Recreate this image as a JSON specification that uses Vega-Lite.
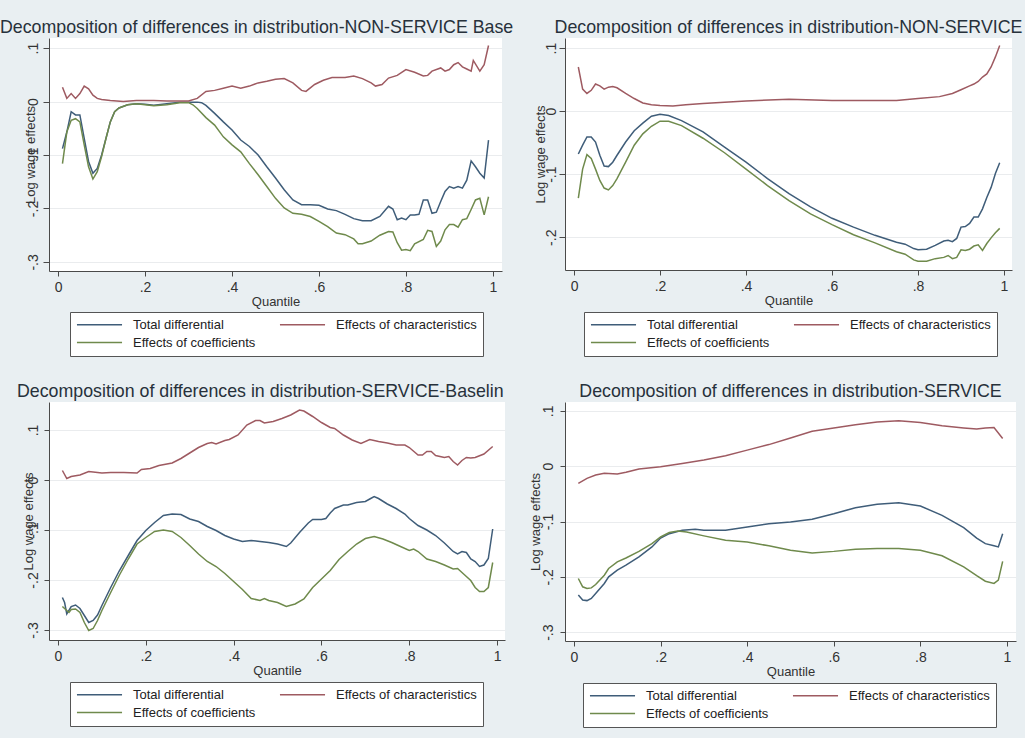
{
  "$schema": "https://vega.github.io/schema/vega-lite/v6.json",
  "background": "#e9eff2",
  "padding": {"left": 0, "top": 19, "right": 20, "bottom": 30},
  "datasets": {
    "p1": [
      {"q":0.01,"s":"T","v":-0.088},{"q":0.02,"s":"T","v":-0.057},{"q":0.03,"s":"T","v":-0.019},{"q":0.04,"s":"T","v":-0.025},{"q":0.05,"s":"T","v":-0.025},{"q":0.06,"s":"T","v":-0.069},{"q":0.07,"s":"T","v":-0.112},{"q":0.08,"s":"T","v":-0.134},{"q":0.09,"s":"T","v":-0.125},{"q":0.10,"s":"T","v":-0.100},{"q":0.11,"s":"T","v":-0.069},{"q":0.12,"s":"T","v":-0.038},{"q":0.13,"s":"T","v":-0.019},{"q":0.14,"s":"T","v":-0.012},{"q":0.16,"s":"T","v":-0.006},{"q":0.18,"s":"T","v":-0.004},{"q":0.20,"s":"T","v":-0.005},{"q":0.22,"s":"T","v":-0.007},{"q":0.25,"s":"T","v":-0.004},{"q":0.28,"s":"T","v":-0.001},{"q":0.30,"s":"T","v":-0.001},{"q":0.32,"s":"T","v":-0.001},{"q":0.33,"s":"T","v":-0.002},{"q":0.34,"s":"T","v":-0.007},{"q":0.36,"s":"T","v":-0.022},{"q":0.38,"s":"T","v":-0.038},{"q":0.40,"s":"T","v":-0.053},{"q":0.42,"s":"T","v":-0.072},{"q":0.44,"s":"T","v":-0.084},{"q":0.46,"s":"T","v":-0.100},{"q":0.48,"s":"T","v":-0.122},{"q":0.50,"s":"T","v":-0.143},{"q":0.52,"s":"T","v":-0.165},{"q":0.54,"s":"T","v":-0.184},{"q":0.56,"s":"T","v":-0.193},{"q":0.58,"s":"T","v":-0.193},{"q":0.60,"s":"T","v":-0.194},{"q":0.62,"s":"T","v":-0.201},{"q":0.64,"s":"T","v":-0.204},{"q":0.66,"s":"T","v":-0.211},{"q":0.68,"s":"T","v":-0.219},{"q":0.70,"s":"T","v":-0.223},{"q":0.72,"s":"T","v":-0.223},{"q":0.74,"s":"T","v":-0.215},{"q":0.76,"s":"T","v":-0.196},{"q":0.77,"s":"T","v":-0.201},{"q":0.78,"s":"T","v":-0.221},{"q":0.79,"s":"T","v":-0.218},{"q":0.80,"s":"T","v":-0.221},{"q":0.81,"s":"T","v":-0.212},{"q":0.82,"s":"T","v":-0.212},{"q":0.83,"s":"T","v":-0.211},{"q":0.84,"s":"T","v":-0.184},{"q":0.85,"s":"T","v":-0.184},{"q":0.86,"s":"T","v":-0.209},{"q":0.87,"s":"T","v":-0.207},{"q":0.88,"s":"T","v":-0.187},{"q":0.89,"s":"T","v":-0.168},{"q":0.90,"s":"T","v":-0.159},{"q":0.91,"s":"T","v":-0.162},{"q":0.92,"s":"T","v":-0.159},{"q":0.93,"s":"T","v":-0.162},{"q":0.94,"s":"T","v":-0.147},{"q":0.95,"s":"T","v":-0.111},{"q":0.96,"s":"T","v":-0.122},{"q":0.97,"s":"T","v":-0.134},{"q":0.98,"s":"T","v":-0.143},{"q":0.99,"s":"T","v":-0.072},
      {"q":0.01,"s":"C","v":0.027},{"q":0.02,"s":"C","v":0.006},{"q":0.03,"s":"C","v":0.015},{"q":0.04,"s":"C","v":0.006},{"q":0.05,"s":"C","v":0.015},{"q":0.06,"s":"C","v":0.029},{"q":0.07,"s":"C","v":0.024},{"q":0.08,"s":"C","v":0.012},{"q":0.09,"s":"C","v":0.006},{"q":0.10,"s":"C","v":0.004},{"q":0.12,"s":"C","v":0.002},{"q":0.15,"s":"C","v":0.0},{"q":0.18,"s":"C","v":0.002},{"q":0.22,"s":"C","v":0.002},{"q":0.25,"s":"C","v":0.001},{"q":0.30,"s":"C","v":0.001},{"q":0.32,"s":"C","v":0.006},{"q":0.34,"s":"C","v":0.019},{"q":0.36,"s":"C","v":0.021},{"q":0.38,"s":"C","v":0.025},{"q":0.40,"s":"C","v":0.029},{"q":0.42,"s":"C","v":0.025},{"q":0.44,"s":"C","v":0.029},{"q":0.46,"s":"C","v":0.035},{"q":0.48,"s":"C","v":0.038},{"q":0.50,"s":"C","v":0.042},{"q":0.52,"s":"C","v":0.043},{"q":0.54,"s":"C","v":0.035},{"q":0.56,"s":"C","v":0.021},{"q":0.57,"s":"C","v":0.019},{"q":0.59,"s":"C","v":0.032},{"q":0.61,"s":"C","v":0.040},{"q":0.63,"s":"C","v":0.045},{"q":0.66,"s":"C","v":0.045},{"q":0.68,"s":"C","v":0.048},{"q":0.70,"s":"C","v":0.043},{"q":0.72,"s":"C","v":0.035},{"q":0.73,"s":"C","v":0.029},{"q":0.745,"s":"C","v":0.032},{"q":0.76,"s":"C","v":0.044},{"q":0.78,"s":"C","v":0.049},{"q":0.80,"s":"C","v":0.060},{"q":0.82,"s":"C","v":0.055},{"q":0.84,"s":"C","v":0.048},{"q":0.85,"s":"C","v":0.049},{"q":0.86,"s":"C","v":0.057},{"q":0.88,"s":"C","v":0.063},{"q":0.89,"s":"C","v":0.057},{"q":0.90,"s":"C","v":0.060},{"q":0.91,"s":"C","v":0.069},{"q":0.92,"s":"C","v":0.073},{"q":0.93,"s":"C","v":0.065},{"q":0.94,"s":"C","v":0.061},{"q":0.95,"s":"C","v":0.057},{"q":0.955,"s":"C","v":0.077},{"q":0.97,"s":"C","v":0.057},{"q":0.98,"s":"C","v":0.069},{"q":0.99,"s":"C","v":0.105},
      {"q":0.01,"s":"K","v":-0.116},{"q":0.02,"s":"K","v":-0.057},{"q":0.03,"s":"K","v":-0.035},{"q":0.04,"s":"K","v":-0.032},{"q":0.05,"s":"K","v":-0.038},{"q":0.06,"s":"K","v":-0.081},{"q":0.07,"s":"K","v":-0.122},{"q":0.08,"s":"K","v":-0.145},{"q":0.09,"s":"K","v":-0.131},{"q":0.10,"s":"K","v":-0.103},{"q":0.11,"s":"K","v":-0.069},{"q":0.12,"s":"K","v":-0.038},{"q":0.13,"s":"K","v":-0.019},{"q":0.14,"s":"K","v":-0.012},{"q":0.16,"s":"K","v":-0.006},{"q":0.18,"s":"K","v":-0.004},{"q":0.20,"s":"K","v":-0.006},{"q":0.22,"s":"K","v":-0.008},{"q":0.25,"s":"K","v":-0.006},{"q":0.28,"s":"K","v":-0.002},{"q":0.30,"s":"K","v":-0.002},{"q":0.31,"s":"K","v":-0.006},{"q":0.32,"s":"K","v":-0.013},{"q":0.34,"s":"K","v":-0.030},{"q":0.36,"s":"K","v":-0.044},{"q":0.38,"s":"K","v":-0.066},{"q":0.40,"s":"K","v":-0.081},{"q":0.42,"s":"K","v":-0.094},{"q":0.44,"s":"K","v":-0.116},{"q":0.46,"s":"K","v":-0.137},{"q":0.48,"s":"K","v":-0.159},{"q":0.50,"s":"K","v":-0.181},{"q":0.52,"s":"K","v":-0.199},{"q":0.54,"s":"K","v":-0.209},{"q":0.56,"s":"K","v":-0.211},{"q":0.58,"s":"K","v":-0.215},{"q":0.60,"s":"K","v":-0.224},{"q":0.62,"s":"K","v":-0.234},{"q":0.64,"s":"K","v":-0.246},{"q":0.66,"s":"K","v":-0.249},{"q":0.68,"s":"K","v":-0.257},{"q":0.69,"s":"K","v":-0.266},{"q":0.70,"s":"K","v":-0.266},{"q":0.72,"s":"K","v":-0.261},{"q":0.74,"s":"K","v":-0.250},{"q":0.76,"s":"K","v":-0.243},{"q":0.77,"s":"K","v":-0.244},{"q":0.78,"s":"K","v":-0.264},{"q":0.79,"s":"K","v":-0.278},{"q":0.80,"s":"K","v":-0.277},{"q":0.81,"s":"K","v":-0.279},{"q":0.82,"s":"K","v":-0.266},{"q":0.84,"s":"K","v":-0.258},{"q":0.85,"s":"K","v":-0.241},{"q":0.86,"s":"K","v":-0.243},{"q":0.87,"s":"K","v":-0.271},{"q":0.88,"s":"K","v":-0.261},{"q":0.89,"s":"K","v":-0.240},{"q":0.90,"s":"K","v":-0.230},{"q":0.91,"s":"K","v":-0.230},{"q":0.92,"s":"K","v":-0.235},{"q":0.93,"s":"K","v":-0.221},{"q":0.94,"s":"K","v":-0.219},{"q":0.95,"s":"K","v":-0.202},{"q":0.96,"s":"K","v":-0.184},{"q":0.97,"s":"K","v":-0.181},{"q":0.98,"s":"K","v":-0.212},{"q":0.99,"s":"K","v":-0.178}
    ],
    "p2": [
      {"q":0.01,"s":"T","v":-0.068},{"q":0.02,"s":"T","v":-0.054},{"q":0.03,"s":"T","v":-0.041},{"q":0.04,"s":"T","v":-0.041},{"q":0.05,"s":"T","v":-0.049},{"q":0.06,"s":"T","v":-0.070},{"q":0.07,"s":"T","v":-0.087},{"q":0.08,"s":"T","v":-0.088},{"q":0.09,"s":"T","v":-0.081},{"q":0.10,"s":"T","v":-0.070},{"q":0.12,"s":"T","v":-0.049},{"q":0.14,"s":"T","v":-0.031},{"q":0.16,"s":"T","v":-0.019},{"q":0.18,"s":"T","v":-0.008},{"q":0.20,"s":"T","v":-0.005},{"q":0.22,"s":"T","v":-0.007},{"q":0.25,"s":"T","v":-0.015},{"q":0.30,"s":"T","v":-0.033},{"q":0.35,"s":"T","v":-0.057},{"q":0.40,"s":"T","v":-0.081},{"q":0.45,"s":"T","v":-0.107},{"q":0.50,"s":"T","v":-0.131},{"q":0.55,"s":"T","v":-0.152},{"q":0.60,"s":"T","v":-0.170},{"q":0.65,"s":"T","v":-0.184},{"q":0.70,"s":"T","v":-0.197},{"q":0.75,"s":"T","v":-0.208},{"q":0.77,"s":"T","v":-0.211},{"q":0.79,"s":"T","v":-0.218},{"q":0.80,"s":"T","v":-0.220},{"q":0.82,"s":"T","v":-0.219},{"q":0.84,"s":"T","v":-0.213},{"q":0.86,"s":"T","v":-0.206},{"q":0.87,"s":"T","v":-0.205},{"q":0.88,"s":"T","v":-0.207},{"q":0.89,"s":"T","v":-0.202},{"q":0.90,"s":"T","v":-0.184},{"q":0.91,"s":"T","v":-0.183},{"q":0.92,"s":"T","v":-0.178},{"q":0.93,"s":"T","v":-0.168},{"q":0.94,"s":"T","v":-0.168},{"q":0.95,"s":"T","v":-0.155},{"q":0.96,"s":"T","v":-0.137},{"q":0.97,"s":"T","v":-0.121},{"q":0.98,"s":"T","v":-0.099},{"q":0.99,"s":"T","v":-0.082},
      {"q":0.01,"s":"C","v":0.070},{"q":0.02,"s":"C","v":0.035},{"q":0.03,"s":"C","v":0.028},{"q":0.04,"s":"C","v":0.033},{"q":0.05,"s":"C","v":0.043},{"q":0.06,"s":"C","v":0.040},{"q":0.07,"s":"C","v":0.035},{"q":0.08,"s":"C","v":0.038},{"q":0.09,"s":"C","v":0.039},{"q":0.10,"s":"C","v":0.037},{"q":0.12,"s":"C","v":0.028},{"q":0.14,"s":"C","v":0.020},{"q":0.16,"s":"C","v":0.013},{"q":0.18,"s":"C","v":0.010},{"q":0.20,"s":"C","v":0.009},{"q":0.23,"s":"C","v":0.008},{"q":0.26,"s":"C","v":0.010},{"q":0.30,"s":"C","v":0.012},{"q":0.40,"s":"C","v":0.016},{"q":0.50,"s":"C","v":0.019},{"q":0.60,"s":"C","v":0.017},{"q":0.70,"s":"C","v":0.017},{"q":0.75,"s":"C","v":0.017},{"q":0.80,"s":"C","v":0.020},{"q":0.85,"s":"C","v":0.023},{"q":0.88,"s":"C","v":0.028},{"q":0.90,"s":"C","v":0.034},{"q":0.92,"s":"C","v":0.040},{"q":0.93,"s":"C","v":0.043},{"q":0.94,"s":"C","v":0.047},{"q":0.95,"s":"C","v":0.054},{"q":0.96,"s":"C","v":0.059},{"q":0.97,"s":"C","v":0.070},{"q":0.98,"s":"C","v":0.086},{"q":0.99,"s":"C","v":0.104},
      {"q":0.01,"s":"K","v":-0.138},{"q":0.02,"s":"K","v":-0.092},{"q":0.03,"s":"K","v":-0.069},{"q":0.04,"s":"K","v":-0.075},{"q":0.05,"s":"K","v":-0.092},{"q":0.06,"s":"K","v":-0.110},{"q":0.07,"s":"K","v":-0.122},{"q":0.08,"s":"K","v":-0.125},{"q":0.09,"s":"K","v":-0.118},{"q":0.10,"s":"K","v":-0.107},{"q":0.12,"s":"K","v":-0.081},{"q":0.14,"s":"K","v":-0.054},{"q":0.16,"s":"K","v":-0.036},{"q":0.18,"s":"K","v":-0.024},{"q":0.20,"s":"K","v":-0.016},{"q":0.22,"s":"K","v":-0.016},{"q":0.25,"s":"K","v":-0.023},{"q":0.30,"s":"K","v":-0.043},{"q":0.35,"s":"K","v":-0.066},{"q":0.40,"s":"K","v":-0.092},{"q":0.45,"s":"K","v":-0.118},{"q":0.50,"s":"K","v":-0.142},{"q":0.55,"s":"K","v":-0.163},{"q":0.60,"s":"K","v":-0.180},{"q":0.65,"s":"K","v":-0.196},{"q":0.70,"s":"K","v":-0.209},{"q":0.75,"s":"K","v":-0.223},{"q":0.77,"s":"K","v":-0.227},{"q":0.79,"s":"K","v":-0.236},{"q":0.80,"s":"K","v":-0.238},{"q":0.82,"s":"K","v":-0.238},{"q":0.84,"s":"K","v":-0.234},{"q":0.86,"s":"K","v":-0.232},{"q":0.87,"s":"K","v":-0.229},{"q":0.88,"s":"K","v":-0.234},{"q":0.89,"s":"K","v":-0.232},{"q":0.90,"s":"K","v":-0.220},{"q":0.91,"s":"K","v":-0.221},{"q":0.92,"s":"K","v":-0.219},{"q":0.93,"s":"K","v":-0.214},{"q":0.94,"s":"K","v":-0.212},{"q":0.95,"s":"K","v":-0.221},{"q":0.96,"s":"K","v":-0.210},{"q":0.97,"s":"K","v":-0.201},{"q":0.98,"s":"K","v":-0.193},{"q":0.99,"s":"K","v":-0.186}
    ],
    "p3": [
      {"q":0.01,"s":"T","v":-0.235},{"q":0.015,"s":"T","v":-0.245},{"q":0.02,"s":"T","v":-0.268},{"q":0.03,"s":"T","v":-0.253},{"q":0.04,"s":"T","v":-0.250},{"q":0.05,"s":"T","v":-0.257},{"q":0.06,"s":"T","v":-0.271},{"q":0.07,"s":"T","v":-0.285},{"q":0.08,"s":"T","v":-0.281},{"q":0.09,"s":"T","v":-0.270},{"q":0.10,"s":"T","v":-0.251},{"q":0.12,"s":"T","v":-0.215},{"q":0.14,"s":"T","v":-0.181},{"q":0.16,"s":"T","v":-0.151},{"q":0.18,"s":"T","v":-0.121},{"q":0.20,"s":"T","v":-0.101},{"q":0.22,"s":"T","v":-0.085},{"q":0.24,"s":"T","v":-0.071},{"q":0.26,"s":"T","v":-0.068},{"q":0.28,"s":"T","v":-0.069},{"q":0.30,"s":"T","v":-0.078},{"q":0.32,"s":"T","v":-0.083},{"q":0.34,"s":"T","v":-0.093},{"q":0.36,"s":"T","v":-0.101},{"q":0.38,"s":"T","v":-0.111},{"q":0.40,"s":"T","v":-0.118},{"q":0.42,"s":"T","v":-0.123},{"q":0.44,"s":"T","v":-0.121},{"q":0.46,"s":"T","v":-0.123},{"q":0.48,"s":"T","v":-0.125},{"q":0.50,"s":"T","v":-0.128},{"q":0.52,"s":"T","v":-0.133},{"q":0.53,"s":"T","v":-0.126},{"q":0.55,"s":"T","v":-0.105},{"q":0.57,"s":"T","v":-0.086},{"q":0.58,"s":"T","v":-0.079},{"q":0.60,"s":"T","v":-0.079},{"q":0.61,"s":"T","v":-0.077},{"q":0.62,"s":"T","v":-0.066},{"q":0.63,"s":"T","v":-0.057},{"q":0.65,"s":"T","v":-0.050},{"q":0.66,"s":"T","v":-0.050},{"q":0.68,"s":"T","v":-0.045},{"q":0.70,"s":"T","v":-0.043},{"q":0.71,"s":"T","v":-0.038},{"q":0.72,"s":"T","v":-0.033},{"q":0.73,"s":"T","v":-0.037},{"q":0.75,"s":"T","v":-0.048},{"q":0.77,"s":"T","v":-0.057},{"q":0.79,"s":"T","v":-0.068},{"q":0.80,"s":"T","v":-0.077},{"q":0.82,"s":"T","v":-0.091},{"q":0.84,"s":"T","v":-0.100},{"q":0.86,"s":"T","v":-0.111},{"q":0.88,"s":"T","v":-0.126},{"q":0.90,"s":"T","v":-0.143},{"q":0.91,"s":"T","v":-0.148},{"q":0.92,"s":"T","v":-0.143},{"q":0.93,"s":"T","v":-0.145},{"q":0.94,"s":"T","v":-0.158},{"q":0.95,"s":"T","v":-0.163},{"q":0.96,"s":"T","v":-0.173},{"q":0.97,"s":"T","v":-0.170},{"q":0.98,"s":"T","v":-0.157},{"q":0.99,"s":"T","v":-0.098},
      {"q":0.01,"s":"C","v":0.019},{"q":0.02,"s":"C","v":0.003},{"q":0.03,"s":"C","v":0.007},{"q":0.05,"s":"C","v":0.010},{"q":0.07,"s":"C","v":0.017},{"q":0.09,"s":"C","v":0.015},{"q":0.10,"s":"C","v":0.014},{"q":0.12,"s":"C","v":0.015},{"q":0.15,"s":"C","v":0.015},{"q":0.18,"s":"C","v":0.014},{"q":0.19,"s":"C","v":0.021},{"q":0.21,"s":"C","v":0.023},{"q":0.23,"s":"C","v":0.029},{"q":0.26,"s":"C","v":0.034},{"q":0.28,"s":"C","v":0.043},{"q":0.30,"s":"C","v":0.054},{"q":0.32,"s":"C","v":0.065},{"q":0.34,"s":"C","v":0.073},{"q":0.35,"s":"C","v":0.075},{"q":0.36,"s":"C","v":0.072},{"q":0.38,"s":"C","v":0.079},{"q":0.39,"s":"C","v":0.081},{"q":0.41,"s":"C","v":0.090},{"q":0.43,"s":"C","v":0.110},{"q":0.45,"s":"C","v":0.119},{"q":0.46,"s":"C","v":0.119},{"q":0.47,"s":"C","v":0.114},{"q":0.49,"s":"C","v":0.117},{"q":0.51,"s":"C","v":0.123},{"q":0.53,"s":"C","v":0.130},{"q":0.55,"s":"C","v":0.140},{"q":0.56,"s":"C","v":0.138},{"q":0.58,"s":"C","v":0.127},{"q":0.60,"s":"C","v":0.115},{"q":0.62,"s":"C","v":0.105},{"q":0.63,"s":"C","v":0.103},{"q":0.65,"s":"C","v":0.090},{"q":0.67,"s":"C","v":0.080},{"q":0.69,"s":"C","v":0.073},{"q":0.71,"s":"C","v":0.081},{"q":0.73,"s":"C","v":0.077},{"q":0.75,"s":"C","v":0.074},{"q":0.77,"s":"C","v":0.070},{"q":0.79,"s":"C","v":0.070},{"q":0.80,"s":"C","v":0.065},{"q":0.82,"s":"C","v":0.050},{"q":0.83,"s":"C","v":0.050},{"q":0.84,"s":"C","v":0.057},{"q":0.85,"s":"C","v":0.057},{"q":0.86,"s":"C","v":0.049},{"q":0.87,"s":"C","v":0.047},{"q":0.88,"s":"C","v":0.045},{"q":0.89,"s":"C","v":0.047},{"q":0.90,"s":"C","v":0.037},{"q":0.91,"s":"C","v":0.030},{"q":0.92,"s":"C","v":0.039},{"q":0.93,"s":"C","v":0.045},{"q":0.94,"s":"C","v":0.044},{"q":0.95,"s":"C","v":0.045},{"q":0.97,"s":"C","v":0.052},{"q":0.99,"s":"C","v":0.067},
      {"q":0.01,"s":"K","v":-0.253},{"q":0.02,"s":"K","v":-0.261},{"q":0.025,"s":"K","v":-0.265},{"q":0.03,"s":"K","v":-0.259},{"q":0.04,"s":"K","v":-0.258},{"q":0.05,"s":"K","v":-0.265},{"q":0.06,"s":"K","v":-0.285},{"q":0.07,"s":"K","v":-0.301},{"q":0.08,"s":"K","v":-0.297},{"q":0.09,"s":"K","v":-0.281},{"q":0.10,"s":"K","v":-0.261},{"q":0.12,"s":"K","v":-0.225},{"q":0.14,"s":"K","v":-0.190},{"q":0.16,"s":"K","v":-0.158},{"q":0.18,"s":"K","v":-0.128},{"q":0.20,"s":"K","v":-0.115},{"q":0.22,"s":"K","v":-0.103},{"q":0.24,"s":"K","v":-0.100},{"q":0.26,"s":"K","v":-0.103},{"q":0.28,"s":"K","v":-0.115},{"q":0.30,"s":"K","v":-0.131},{"q":0.32,"s":"K","v":-0.148},{"q":0.34,"s":"K","v":-0.163},{"q":0.36,"s":"K","v":-0.173},{"q":0.38,"s":"K","v":-0.187},{"q":0.40,"s":"K","v":-0.203},{"q":0.42,"s":"K","v":-0.219},{"q":0.44,"s":"K","v":-0.237},{"q":0.46,"s":"K","v":-0.241},{"q":0.47,"s":"K","v":-0.237},{"q":0.48,"s":"K","v":-0.241},{"q":0.50,"s":"K","v":-0.245},{"q":0.52,"s":"K","v":-0.253},{"q":0.54,"s":"K","v":-0.248},{"q":0.56,"s":"K","v":-0.238},{"q":0.58,"s":"K","v":-0.215},{"q":0.60,"s":"K","v":-0.198},{"q":0.62,"s":"K","v":-0.181},{"q":0.64,"s":"K","v":-0.159},{"q":0.66,"s":"K","v":-0.143},{"q":0.68,"s":"K","v":-0.128},{"q":0.70,"s":"K","v":-0.117},{"q":0.72,"s":"K","v":-0.113},{"q":0.74,"s":"K","v":-0.118},{"q":0.76,"s":"K","v":-0.125},{"q":0.78,"s":"K","v":-0.133},{"q":0.80,"s":"K","v":-0.141},{"q":0.81,"s":"K","v":-0.138},{"q":0.82,"s":"K","v":-0.143},{"q":0.84,"s":"K","v":-0.158},{"q":0.86,"s":"K","v":-0.163},{"q":0.88,"s":"K","v":-0.170},{"q":0.90,"s":"K","v":-0.178},{"q":0.91,"s":"K","v":-0.177},{"q":0.92,"s":"K","v":-0.185},{"q":0.94,"s":"K","v":-0.201},{"q":0.95,"s":"K","v":-0.215},{"q":0.96,"s":"K","v":-0.223},{"q":0.97,"s":"K","v":-0.223},{"q":0.98,"s":"K","v":-0.215},{"q":0.99,"s":"K","v":-0.165}
    ],
    "p4": [
      {"q":0.01,"s":"T","v":-0.233},{"q":0.02,"s":"T","v":-0.242},{"q":0.03,"s":"T","v":-0.243},{"q":0.04,"s":"T","v":-0.239},{"q":0.05,"s":"T","v":-0.230},{"q":0.07,"s":"T","v":-0.212},{"q":0.08,"s":"T","v":-0.200},{"q":0.10,"s":"T","v":-0.188},{"q":0.12,"s":"T","v":-0.179},{"q":0.15,"s":"T","v":-0.164},{"q":0.18,"s":"T","v":-0.146},{"q":0.20,"s":"T","v":-0.130},{"q":0.22,"s":"T","v":-0.122},{"q":0.25,"s":"T","v":-0.116},{"q":0.28,"s":"T","v":-0.114},{"q":0.30,"s":"T","v":-0.116},{"q":0.35,"s":"T","v":-0.116},{"q":0.40,"s":"T","v":-0.110},{"q":0.45,"s":"T","v":-0.104},{"q":0.50,"s":"T","v":-0.101},{"q":0.55,"s":"T","v":-0.096},{"q":0.60,"s":"T","v":-0.086},{"q":0.65,"s":"T","v":-0.075},{"q":0.70,"s":"T","v":-0.069},{"q":0.75,"s":"T","v":-0.066},{"q":0.80,"s":"T","v":-0.072},{"q":0.85,"s":"T","v":-0.089},{"q":0.90,"s":"T","v":-0.111},{"q":0.93,"s":"T","v":-0.130},{"q":0.95,"s":"T","v":-0.140},{"q":0.97,"s":"T","v":-0.144},{"q":0.98,"s":"T","v":-0.146},{"q":0.99,"s":"T","v":-0.122},
      {"q":0.01,"s":"C","v":-0.031},{"q":0.03,"s":"C","v":-0.022},{"q":0.05,"s":"C","v":-0.016},{"q":0.07,"s":"C","v":-0.013},{"q":0.10,"s":"C","v":-0.014},{"q":0.12,"s":"C","v":-0.011},{"q":0.15,"s":"C","v":-0.005},{"q":0.20,"s":"C","v":-0.001},{"q":0.25,"s":"C","v":0.005},{"q":0.30,"s":"C","v":0.011},{"q":0.35,"s":"C","v":0.019},{"q":0.40,"s":"C","v":0.029},{"q":0.45,"s":"C","v":0.039},{"q":0.50,"s":"C","v":0.051},{"q":0.55,"s":"C","v":0.063},{"q":0.60,"s":"C","v":0.069},{"q":0.65,"s":"C","v":0.075},{"q":0.70,"s":"C","v":0.080},{"q":0.75,"s":"C","v":0.082},{"q":0.80,"s":"C","v":0.079},{"q":0.85,"s":"C","v":0.073},{"q":0.90,"s":"C","v":0.069},{"q":0.93,"s":"C","v":0.067},{"q":0.95,"s":"C","v":0.069},{"q":0.97,"s":"C","v":0.070},{"q":0.99,"s":"C","v":0.050},
      {"q":0.01,"s":"K","v":-0.203},{"q":0.02,"s":"K","v":-0.218},{"q":0.03,"s":"K","v":-0.221},{"q":0.04,"s":"K","v":-0.220},{"q":0.05,"s":"K","v":-0.214},{"q":0.07,"s":"K","v":-0.197},{"q":0.08,"s":"K","v":-0.185},{"q":0.10,"s":"K","v":-0.173},{"q":0.12,"s":"K","v":-0.166},{"q":0.15,"s":"K","v":-0.154},{"q":0.18,"s":"K","v":-0.140},{"q":0.20,"s":"K","v":-0.128},{"q":0.22,"s":"K","v":-0.120},{"q":0.24,"s":"K","v":-0.117},{"q":0.26,"s":"K","v":-0.119},{"q":0.30,"s":"K","v":-0.126},{"q":0.35,"s":"K","v":-0.134},{"q":0.40,"s":"K","v":-0.137},{"q":0.45,"s":"K","v":-0.144},{"q":0.50,"s":"K","v":-0.152},{"q":0.55,"s":"K","v":-0.157},{"q":0.60,"s":"K","v":-0.154},{"q":0.65,"s":"K","v":-0.150},{"q":0.70,"s":"K","v":-0.149},{"q":0.75,"s":"K","v":-0.149},{"q":0.80,"s":"K","v":-0.152},{"q":0.85,"s":"K","v":-0.162},{"q":0.90,"s":"K","v":-0.182},{"q":0.93,"s":"K","v":-0.198},{"q":0.95,"s":"K","v":-0.208},{"q":0.97,"s":"K","v":-0.212},{"q":0.98,"s":"K","v":-0.206},{"q":0.99,"s":"K","v":-0.172}
    ]
  },
  "columns": 2,
  "concat": [
    {
      "width": 453, "height": 233,
      "data": {"name": "p1"},
      "title": {"text": "Decomposition of differences in distribution-NON-SERVICE Base", "anchor": "start", "frame": "group", "dx": -49},
      "mark": {"type": "line", "strokeWidth": 1.5},
      "encoding": {
        "x": {"field": "q", "type": "quantitative", "title": "Quantile",
          "scale": {"domain": [-0.021, 1.021], "nice": false, "zero": false},
          "axis": {"values": [0, 0.2, 0.4, 0.6, 0.8, 1], "grid": false, "labelExpr": "datum.value==0?'0':datum.value==1?'1':replace(format(datum.value,'.1f'),'0.','.')"}},
        "y": {"field": "v", "type": "quantitative", "title": "Log wage effects",
          "scale": {"domain": [-0.317, 0.119], "nice": false, "zero": false},
          "axis": {"values": [-0.3, -0.2, -0.1, 0, 0.1], "tickSize": 6, "labelPadding": 3, "titleX": -19, "labelExpr": "datum.value==0?'0':(datum.value<0?'-':'')+replace(format(abs(datum.value),'.1f'),'0.','.')"}},
        "color": {"field": "s", "type": "nominal",
          "scale": {"domain": ["T", "C", "K"], "range": ["#3f5d79", "#9e5a61", "#6f8a4c"]},
          "legend": {"title": null, "legendX": 21, "legendY": 274, "labelExpr": "datum.label=='T'?'Total differential':datum.label=='C'?'Effects of characteristics':'Effects of coefficients'"}}
      }
    },
    {
      "width": 447, "height": 232,
      "data": {"name": "p2"},
      "title": {"text": "Decomposition of differences in distribution-NON-SERVICE"},
      "mark": {"type": "line", "strokeWidth": 1.5},
      "encoding": {
        "x": {"field": "q", "type": "quantitative", "title": "Quantile",
          "scale": {"domain": [-0.021, 1.0186], "nice": false, "zero": false},
          "axis": {"values": [0, 0.2, 0.4, 0.6, 0.8, 1], "grid": false, "labelExpr": "datum.value==0?'0':datum.value==1?'1':replace(format(datum.value,'.1f'),'0.','.')"}},
        "y": {"field": "v", "type": "quantitative", "title": "Log wage effects",
          "scale": {"domain": [-0.252, 0.116], "nice": false, "zero": false},
          "axis": {"values": [-0.2, -0.1, 0, 0.1], "tickSize": 6, "labelPadding": 1, "titleX": -25, "labelExpr": "datum.value==0?'0':(datum.value<0?'-':'')+replace(format(abs(datum.value),'.1f'),'0.','.')"}},
        "color": {"field": "s", "type": "nominal",
          "scale": {"domain": ["T", "C", "K"], "range": ["#3f5d79", "#9e5a61", "#6f8a4c"]},
          "legend": {"title": null, "legendX": 19, "legendY": 274, "labelExpr": "datum.label=='T'?'Total differential':datum.label=='C'?'Effects of characteristics':'Effects of coefficients'"}}
      }
    },
    {
      "width": 456, "height": 238,
      "data": {"name": "p3"},
      "title": {"text": "Decomposition of differences in distribution-SERVICE-Baselin", "anchor": "start", "frame": "group", "dx": -32},
      "mark": {"type": "line", "strokeWidth": 1.5},
      "encoding": {
        "x": {"field": "q", "type": "quantitative", "title": "Quantile",
          "scale": {"domain": [-0.0205, 1.018], "nice": false, "zero": false},
          "axis": {"values": [0, 0.2, 0.4, 0.6, 0.8, 1], "grid": false, "labelExpr": "datum.value==0?'0':datum.value==1?'1':replace(format(datum.value,'.1f'),'0.','.')"}},
        "y": {"field": "v", "type": "quantitative", "title": "Log wage effects",
          "scale": {"domain": [-0.32, 0.156], "nice": false, "zero": false},
          "axis": {"values": [-0.3, -0.2, -0.1, 0, 0.1], "tickSize": 5, "labelPadding": 4, "titleX": -21, "labelExpr": "datum.value==0?'0':(datum.value<0?'-':'')+replace(format(abs(datum.value),'.1f'),'0.','.')"}},
        "color": {"field": "s", "type": "nominal",
          "scale": {"domain": ["T", "C", "K"], "range": ["#3f5d79", "#9e5a61", "#6f8a4c"]},
          "legend": {"title": null, "legendX": 21, "legendY": 280, "labelExpr": "datum.label=='T'?'Total differential':datum.label=='C'?'Effects of characteristics':'Effects of coefficients'"}}
      }
    },
    {
      "width": 451, "height": 239,
      "data": {"name": "p4"},
      "title": {"text": "Decomposition of differences in distribution-SERVICE"},
      "mark": {"type": "line", "strokeWidth": 1.5},
      "encoding": {
        "x": {"field": "q", "type": "quantitative", "title": "Quantile",
          "scale": {"domain": [-0.0208, 1.0208], "nice": false, "zero": false},
          "axis": {"values": [0, 0.2, 0.4, 0.6, 0.8, 1], "grid": false, "labelExpr": "datum.value==0?'0':datum.value==1?'1':replace(format(datum.value,'.1f'),'0.','.')"}},
        "y": {"field": "v", "type": "quantitative", "title": "Log wage effects",
          "scale": {"domain": [-0.316, 0.116], "nice": false, "zero": false},
          "axis": {"values": [-0.3, -0.2, -0.1, 0, 0.1], "tickSize": 5, "labelPadding": 5, "titleX": -30, "labelExpr": "datum.value==0?'0':(datum.value<0?'-':'')+replace(format(abs(datum.value),'.1f'),'0.','.')"}},
        "color": {"field": "s", "type": "nominal",
          "scale": {"domain": ["T", "C", "K"], "range": ["#3f5d79", "#9e5a61", "#6f8a4c"]},
          "legend": {"title": null, "legendX": 18, "legendY": 281, "labelExpr": "datum.label=='T'?'Total differential':datum.label=='C'?'Effects of characteristics':'Effects of coefficients'"}}
      }
    }
  ],
  "spacing": {"row": 131, "column": 60},
  "bounds": "flush",
  "resolve": {"scale": {"x": "independent", "y": "independent", "color": "independent"}, "legend": {"color": "independent"}, "axis": {"x": "independent", "y": "independent"}},
  "config": {
    "font": "Liberation Sans",
    "view": {"fill": "white", "stroke": null},
    "title": {"fontSize": 17.8, "fontWeight": "normal", "color": "#27313b", "baseline": "alphabetic", "offset": 1, "font": "Liberation Sans"},
    "axis": {"domainColor": "#4a4a4a", "tickColor": "#4a4a4a", "labelColor": "#333333", "titleColor": "#333333", "labelFont": "Liberation Sans", "titleFont": "Liberation Sans", "labelFontSize": 14, "titleFontSize": 13, "titleFontWeight": "normal", "tickSize": 5, "gridColor": "#eaecee", "gridWidth": 1},
    "axisX": {"labelPadding": 4, "titlePadding": 1},
    "axisY": {"labelAngle": 270, "titleBaseline": "middle"},
    "legend": {"orient": "none", "direction": "horizontal", "columns": 2, "symbolType": "M-4,0H4", "symbolSize": 127, "symbolOffset": 17, "symbolStrokeWidth": 1.5, "labelFont": "Liberation Sans", "labelFontSize": 13, "labelColor": "#222222", "labelOffset": 27, "strokeColor": "#555555", "fillColor": "white", "padding": 6, "columnPadding": 20, "rowPadding": 4}
  }
}
